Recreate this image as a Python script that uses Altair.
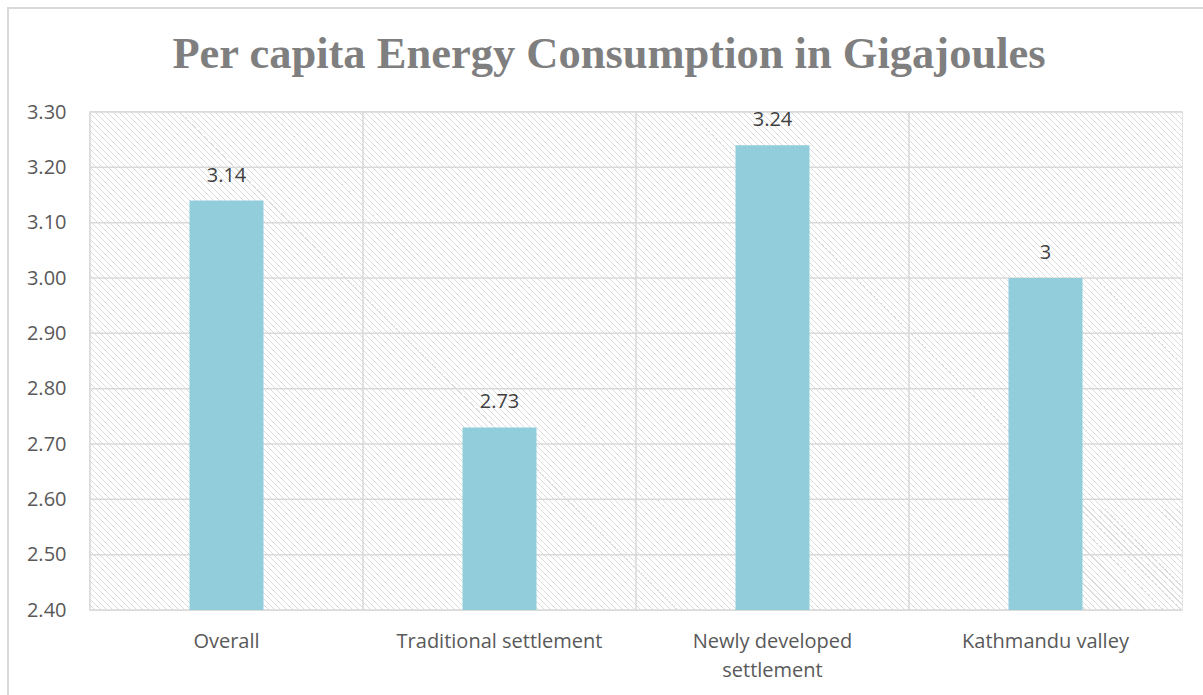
import altair as alt
import pandas as pd

# Per capita energy consumption (GJ) by settlement type
categories = ["Overall", "Traditional settlement", "Newly developed settlement", "Kathmandu valley"]
values = [3.14, 2.73, 3.24, 3.0]
y_ticks = [2.4, 2.5, 2.6, 2.7, 2.8, 2.9, 3.0, 3.1, 3.2, 3.3]
title_text = "Per capita Energy Consumption in Gigajoules"

df = pd.DataFrame({"category": categories, "value": values})
ticks_df = pd.DataFrame({"tick": y_ticks})

W, H = 1092, 498
PAD = {"left": 90, "top": 112, "right": 21, "bottom": 85}

GRID = "#d9d9d9"
BAR = "#92cddc"
LABEL_FONT = "Open Sans"

# Diagonal hatch for the plot background, built as a striped linear gradient
# whose iso-lines run at 45 degrees in pixel space.
r = H / W
k = (1 + r) / (1 + r * r)
period_px = 6.0
n_periods = int(round((W + H) / period_px))
stops = []
for i in range(n_periods):
    a = i / n_periods
    b = (i + 0.7) / n_periods
    c = (i + 1) / n_periods
    stops += [
        alt.GradientStop(offset=a, color="#ffffff"),
        alt.GradientStop(offset=b, color="#ffffff"),
        alt.GradientStop(offset=b, color="#dcdcdc"),
        alt.GradientStop(offset=c, color="#dcdcdc"),
    ]
hatch = alt.LinearGradient(
    gradient="linear", x1=0, y1=1, x2=k, y2=1 - k * r, stops=stops
)

y_scale = alt.Scale(domain=[2.4, 3.3], nice=False, zero=False)

x_enc = alt.X(
    "category:N",
    sort=categories,
    scale=alt.Scale(paddingInner=0, paddingOuter=0),
    axis=alt.Axis(
        title=None,
        labelAngle=0,
        labelAlign="center",
        domain=False,
        ticks=False,
        tickSize=0,
        grid=False,
        labelFont=LABEL_FONT,
        labelFontSize=20,
        labelColor="#595959",
        labelPadding=31,
        labelLineHeight=29,
        labelLimit=400,
        labelExpr="datum.label == 'Newly developed settlement' ? ['Newly developed', 'settlement'] : datum.label",
    ),
)

y_enc = alt.Y(
    "value:Q",
    scale=y_scale,
    axis=alt.Axis(
        title=None,
        values=y_ticks,
        format=".2f",
        domain=False,
        ticks=False,
        tickSize=0,
        grid=False,
        labelFont=LABEL_FONT,
        labelFontSize=20,
        labelColor="#595959",
        labelPadding=24,
    ),
)

base = alt.Chart(df)

# hatched plot background
background = alt.Chart(pd.DataFrame({"b": [0]})).mark_rect(color=hatch).encode(
    x=alt.value(0), x2=alt.value(W), y=alt.value(0), y2=alt.value(H)
)

# horizontal gridlines at each tick value
gridlines = alt.Chart(ticks_df).mark_rule(color=GRID, strokeWidth=1.5).encode(
    y=alt.Y("tick:Q", scale=y_scale)
)

# category separators
separators = base.mark_rule(color=GRID, strokeWidth=1.5).encode(
    x=alt.X("category:N", sort=categories, bandPosition=0)
)

bars = base.mark_bar(color=BAR, size=74, clip=True).encode(x=x_enc, y=y_enc)

labels = base.mark_text(
    font=LABEL_FONT, fontSize=20, color="#404040", baseline="alphabetic", dy=-19
).encode(
    x=alt.X("category:N", sort=categories),
    y=alt.Y("value:Q", scale=y_scale),
    text=alt.Text("value:Q", format=".3~g"),
)

title = alt.Chart(pd.DataFrame({"t": [title_text]})).mark_text(
    font="Liberation Serif",
    fontSize=44.5,
    fontWeight="bold",
    color="#7f7f7f",
    baseline="alphabetic",
    align="center",
).encode(text="t:N", x=alt.value(519), y=alt.value(-44))

# outer frame of the chart
frame = alt.Chart(pd.DataFrame({"f": [0]})).mark_rect(
    fill=None, stroke=GRID, strokeWidth=2
).encode(
    x=alt.value(-82), x2=alt.value(W + 60), y=alt.value(-104), y2=alt.value(H + 120)
)

chart = (
    alt.layer(background, gridlines, separators, bars, labels, title, frame)
    .properties(
        width=W,
        height=H,
        autosize=alt.AutoSizeParams(type="none"),
        padding=PAD,
        background="#ffffff",
    )
    .configure_view(stroke=GRID, strokeWidth=1.5)
)

chart.save("out.html", embed_options={"renderer": "svg", "actions": False})
